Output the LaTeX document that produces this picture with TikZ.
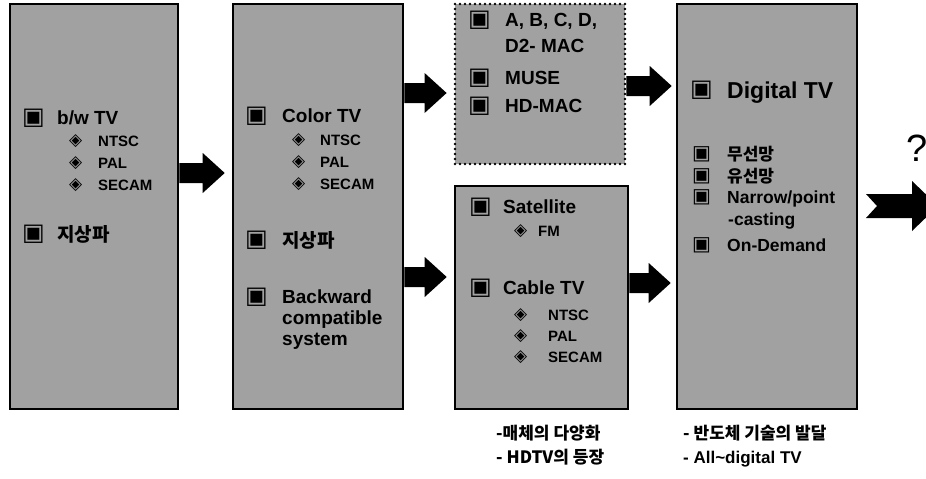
\documentclass[tikz,border=0pt]{standalone}
\usepackage{fontspec}
\setmainfont{Liberation Sans}
\newfontfamily\kr{Noto Sans CJK KR}
\newfontfamily\dv{DejaVu Sans}
\usetikzlibrary{calc}
\newcommand\blkarrow[2]{\fill let \p1=(#1), \p2=(#2) in
  (\x1,\y1+10pt) -- (\x2-22pt,\y1+10pt) -- (\x2-22pt,\y1+20pt) -- (\x2,\y1)
  -- (\x2-22pt,\y1-20pt) -- (\x2-22pt,\y1-10pt) -- (\x1,\y1-10pt) -- cycle;}
\begin{document}
\begin{tikzpicture}[x=1pt,y=-1pt,
  panel/.style={draw=black, line width=2.6pt, fill=black!37, inner sep=0pt},
  dotpanel/.style={draw=black, line width=2.8pt, fill=black!37, inner sep=0pt,
    dash pattern=on 0pt off 5pt, line cap=round},
  big/.style={anchor=west, inner sep=0pt, text height=13.6pt, text depth=0pt,
    font=\bfseries\fontsize{19}{19}\selectfont},
  bigk/.style={anchor=west, inner sep=0pt, text height=14pt, text depth=0pt,
    font=\kr\bfseries\fontsize{19}{19}\selectfont},
  huge/.style={anchor=west, inner sep=0pt, text height=16.5pt, text depth=0pt,
    font=\bfseries\fontsize{23}{23}\selectfont},
  sub/.style={anchor=west, inner sep=0pt, text height=10.8pt, text depth=0pt,
    font=\bfseries\fontsize{15}{15}\selectfont},
  mid/.style={anchor=west, inner sep=0pt, text height=12.6pt, text depth=0pt,
    font=\bfseries\fontsize{17.5}{17.5}\selectfont},
  midk/.style={anchor=west, inner sep=0pt, text height=13pt, text depth=0pt,
    font=\kr\bfseries\fontsize{17}{17}\selectfont},
  note/.style={anchor=west, inner sep=0pt, text height=12.5pt, text depth=0pt,
    font=\kr\bfseries\fontsize{17}{17}\selectfont},
  bul/.style={anchor=west, inner sep=0pt, font=\dv\fontsize{24}{24}\selectfont},
  sbul/.style={anchor=west, inner sep=0pt, font=\dv\fontsize{20}{20}\selectfont},
  dia/.style={anchor=west, inner sep=0pt, font=\dv\fontsize{17}{17}\selectfont}]
\clip (0,0) rectangle (926,479);
\fill[white] (0,0) rectangle (926,479);
% panels
\node[panel, minimum width=168pt, minimum height=405pt] (p1) at (94,206.5) {};
\node[panel, minimum width=170pt, minimum height=405pt] (p2) at (318,206.5) {};
\node[dotpanel, minimum width=170pt, minimum height=160pt] (p3) at (540,84) {};
\node[panel, minimum width=173pt, minimum height=223pt] (p4) at (541.5,297.5) {};
\node[panel, minimum width=180pt, minimum height=405pt] (p5) at (767,206.5) {};
% arrow levels
\coordinate (y1) at (0,173);
\coordinate (y2) at (0,93);
\coordinate (y3) at (0,277);
\coordinate (y4) at (0,86);
\coordinate (y5) at (0,283);
\blkarrow{p1.east |- y1}{$(p2.west |- y1)+(-7,0)$}
\blkarrow{p2.east |- y2}{$(p3.west |- y2)+(-7,0)$}
\blkarrow{p2.east |- y3}{$(p4.west |- y3)+(-7,0)$}
\blkarrow{p3.east |- y4}{$(p5.west |- y4)+(-4,0)$}
\blkarrow{p4.east |- y5}{$(p5.west |- y5)+(-5,0)$}
% notched arrow to the unknown
\coordinate (q0) at (866,206);
\fill (q0) ++(0,-12) -- (912,194) -- (912,181) -- (938,206) -- (912,231)
  -- (912,218) -- (866,218) -- (877,206) -- cycle;
\node[inner sep=0pt, font=\fontsize{38}{38}\selectfont] (qm) at (917,148) {?};
% panel 1
\node[bul] (b1a) at (22,118) {▣};
\node[big] (t1a) at (57,118) {b/w TV};
\node[dia] (d1a) at (69,141) {◈};
\node[sub] (s1a) at (98,141) {NTSC};
\node[dia] (d1b) at (69,163) {◈};
\node[sub] (s1b) at (98,163) {PAL};
\node[dia] (d1c) at (69,185) {◈};
\node[sub] (s1c) at (98,185) {SECAM};
\node[bul] (b1b) at (22,234) {▣};
\node[bigk] (t1b) at (57,234) {지상파};
% panel 2
\node[bul] (b2a) at (245,116) {▣};
\node[big] (t2a) at (282,116) {Color TV};
\node[dia] (d2a) at (292,140) {◈};
\node[sub] (s2a) at (320,140) {NTSC};
\node[dia] (d2b) at (292,162) {◈};
\node[sub] (s2b) at (320,162) {PAL};
\node[dia] (d2c) at (292,184) {◈};
\node[sub] (s2c) at (320,184) {SECAM};
\node[bul] (b2b) at (245,240) {▣};
\node[bigk] (t2b) at (282,240) {지상파};
\node[bul] (b2c) at (245,297) {▣};
\node[big] (t2c) at (282,297) {Backward};
\node[big] (t2d) at (282,318) {compatible};
\node[big] (t2e) at (282,339) {system};
% panel 3
\node[bul] (b3a) at (468,20) {▣};
\node[big] (t3a) at (505,20) {A, B, C, D,};
\node[big] (t3b) at (505,46) {D2- MAC};
\node[bul] (b3b) at (468,78) {▣};
\node[big] (t3c) at (505,78) {MUSE};
\node[bul] (b3c) at (468,106) {▣};
\node[big] (t3d) at (505,106) {HD-MAC};
% panel 4
\node[bul] (b4a) at (469,207) {▣};
\node[big] (t4a) at (503,207) {Satellite};
\node[dia] (d4a) at (514,231) {◈};
\node[sub] (s4a) at (538,231) {FM};
\node[bul] (b4b) at (469,288) {▣};
\node[big] (t4b) at (503,288) {Cable TV};
\node[dia] (d4b) at (514,315) {◈};
\node[sub] (s4b) at (548,315) {NTSC};
\node[dia] (d4c) at (514,336) {◈};
\node[sub] (s4c) at (548,336) {PAL};
\node[dia] (d4d) at (514,357) {◈};
\node[sub] (s4d) at (548,357) {SECAM};
% panel 5
\node[bul] (b5a) at (690,90) {▣};
\node[huge] (t5a) at (727,90) {Digital TV};
\node[sbul] (b5b) at (692,154) {▣};
\node[midk] (t5b) at (727,154) {무선망};
\node[sbul] (b5c) at (692,176) {▣};
\node[midk] (t5c) at (727,176) {유선망};
\node[sbul] (b5d) at (692,197) {▣};
\node[mid] (t5d) at (727,197) {Narrow/point};
\node[mid] (t5e) at (728,219) {-casting};
\node[sbul] (b5e) at (692,245) {▣};
\node[mid] (t5f) at (727,245) {On-Demand};
% notes
\node[note] (n1) at (496,433) {-매체의 다양화};
\node[note] (n2) at (496,457) {- HDTV의 등장};
\node[note] (n3) at (683,433) {- 반도체 기술의 발달};
\node[note, font=\bfseries\fontsize{17}{17}\selectfont] (n4) at (683,457) {- All\textasciitilde digital TV};
\end{tikzpicture}
\end{document}
